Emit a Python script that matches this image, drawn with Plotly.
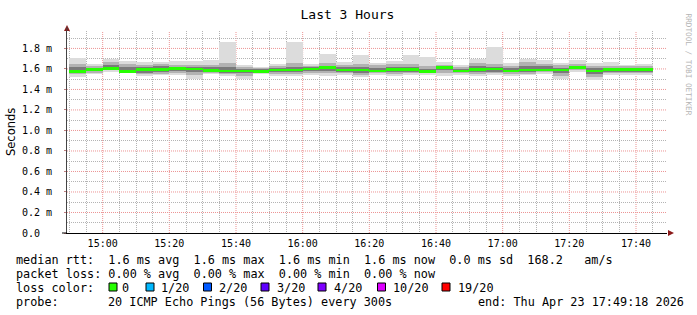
import plotly.graph_objects as go
import pandas as pd

# ---------------- data ----------------
title_text = "Last 3 Hours"
y_title = "Seconds"

# 5-minute RRD bins (start times)
bin_start = pd.date_range("2026-04-23 14:50", periods=35, freq="5min")

median_ms = [1.575, 1.593, 1.603, 1.578, 1.593, 1.593, 1.607, 1.600, 1.587, 1.580,
             1.580, 1.574, 1.590, 1.590, 1.600, 1.613, 1.590, 1.590, 1.580, 1.595,
             1.595, 1.573, 1.613, 1.580, 1.595, 1.600, 1.580, 1.590, 1.590, 1.590,
             1.613, 1.580, 1.597, 1.595, 1.595]
min_ms = [1.525, 1.548, 1.574, 1.566, 1.535, 1.540, 1.540, 1.500, 1.548, 1.535,
          1.502, 1.550, 1.530, 1.530, 1.540, 1.530, 1.540, 1.520, 1.540, 1.535,
          1.540, 1.540, 1.535, 1.540, 1.530, 1.540, 1.530, 1.540, 1.555, 1.502,
          1.574, 1.496, 1.545, 1.540, 1.540]
max_ms = [1.704, 1.646, 1.694, 1.680, 1.670, 1.670, 1.676, 1.676, 1.690, 1.866,
          1.639, 1.616, 1.649, 1.866, 1.646, 1.746, 1.670, 1.737, 1.662, 1.680,
          1.737, 1.717, 1.665, 1.640, 1.700, 1.815, 1.656, 1.700, 1.690, 1.656,
          1.690, 1.656, 1.670, 1.640, 1.649]
lo_mid = [1.550, 1.565, 1.585, 1.572, 1.550, 1.555, 1.560, 1.540, 1.565, 1.550,
          1.535, 1.560, 1.555, 1.550, 1.565, 1.560, 1.560, 1.545, 1.560, 1.555,
          1.560, 1.560, 1.560, 1.560, 1.555, 1.560, 1.555, 1.555, 1.570, 1.530,
          1.585, 1.520, 1.560, 1.560, 1.560]
hi_mid = [1.645, 1.625, 1.665, 1.645, 1.640, 1.645, 1.640, 1.640, 1.640, 1.660,
          1.620, 1.605, 1.630, 1.660, 1.630, 1.660, 1.640, 1.650, 1.635, 1.650,
          1.650, 1.630, 1.640, 1.620, 1.655, 1.650, 1.630, 1.665, 1.650, 1.635,
          1.650, 1.625, 1.630, 1.625, 1.630]
lo_core = [1.585, 1.585, 1.595, 1.580, 1.565, 1.575, 1.580, 1.575, 1.575, 1.560,
           1.565, 1.568, 1.570, 1.570, 1.580, 1.580, 1.570, 1.560, 1.570, 1.570,
           1.575, 1.565, 1.585, 1.570, 1.575, 1.575, 1.570, 1.570, 1.580, 1.560,
           1.595, 1.555, 1.575, 1.575, 1.575]
hi_core = [1.620, 1.610, 1.640, 1.620, 1.615, 1.625, 1.620, 1.615, 1.615, 1.620,
           1.600, 1.595, 1.610, 1.620, 1.615, 1.630, 1.615, 1.620, 1.610, 1.620,
           1.620, 1.600, 1.625, 1.600, 1.625, 1.620, 1.605, 1.630, 1.625, 1.610,
           1.630, 1.605, 1.610, 1.610, 1.610]

y_tick_vals = [0.0, 0.2, 0.4, 0.6, 0.8, 1.0, 1.2, 1.4, 1.6, 1.8]
y_tick_text = ["0.0  ", "0.2 m", "0.4 m", "0.6 m", "0.8 m", "1.0 m",
               "1.2 m", "1.4 m", "1.6 m", "1.8 m"]
y_minor_vals = [0.1, 0.3, 0.5, 0.7, 0.9, 1.1, 1.3, 1.5, 1.7, 1.9]

loss_labels = ["0", "1/20", "2/20", "3/20", "4/20", "10/20", "19/20"]
loss_colors = ["#26ff00", "#00b8ff", "#0059ff", "#5e00ff", "#7e00ff", "#dd00ff", "#ff0000"]

line_rtt = "median rtt:  1.6 ms avg  1.6 ms max  1.6 ms min  1.6 ms now  0.0 ms sd  168.2   am/s"
line_loss = "packet loss: 0.00 % avg  0.00 % max  0.00 % min  0.00 % now"
line_color_label = "loss color:"
line_probe_label = "probe:"
line_probe = "20 ICMP Echo Pings (56 Bytes) every 300s"
line_end = "end: Thu Apr 23 17:49:18 2026"
credit = "RRDTOOL / TOBI OETIKER"

# ---------------- layout geometry ----------------
W, H = 697, 315
L, R, T, B = 67, 30, 31, 82
PW, PH = W - L - R, H - T - B
MONO = "DejaVu Sans Mono"


def px(x):
    return (x - L) / PW


def py(y):
    return (H - B - y) / PH


def nb(s):
    return s.replace(" ", "\u00a0")


step_ms = 300000
centers = bin_start + pd.Timedelta(seconds=150)

# grid positions: minor every 5 min, major every 20 min
x_grid_all = pd.date_range("2026-04-23 14:50", "2026-04-23 17:45", freq="5min")
x_minor_vals = [t.strftime("%Y-%m-%d %H:%M") for t in x_grid_all if t.minute % 20 != 0]
x_major_vals = [t.strftime("%Y-%m-%d %H:%M") for t in x_grid_all if t.minute % 20 == 0]
x_major_text = [t.strftime("%H:%M") for t in x_grid_all if t.minute % 20 == 0]

fig = go.Figure()


def band(lo, hi, color):
    fig.add_trace(go.Bar(
        x=centers, base=lo, y=[h - l for l, h in zip(lo, hi)], width=step_ms,
        marker=dict(color=color, line=dict(width=0)), hoverinfo="skip",
        showlegend=False))


band(min_ms, max_ms, "#dcdcdc")
band(lo_mid, hi_mid, "#b2b2b2")
band(lo_core, hi_core, "#7a7a7a")
green_h = 0.027
band([m - green_h / 2 for m in median_ms], [m + green_h / 2 for m in median_ms], loss_colors[0])

minor_grid = "#b4b4b4"
major_grid = "#ec9494"
GDASH = "1px,1px"

fig.update_layout(
    width=W, height=H,
    margin=dict(l=L, r=R, t=T, b=B, pad=0),
    paper_bgcolor="white", plot_bgcolor="white",
    barmode="overlay", bargap=0,
    showlegend=False,
    title=dict(text=title_text, x=0.4985, xanchor="center", y=1 - 14 / H, yanchor="middle",
               font=dict(family=MONO, size=13, color="#000")),
    font=dict(family=MONO, color="#000"),
)

fig.update_xaxes(
    type="date",
    range=["2026-04-23 14:49:18", "2026-04-23 17:49:18"],
    tickmode="array", tickvals=x_major_vals, ticktext=x_major_text,
    tickfont=dict(family=MONO, size=10, color="#000"),
    showgrid=False,
    minor=dict(tickmode="array", tickvals=x_minor_vals, showgrid=True,
               gridcolor=minor_grid, griddash=GDASH, gridwidth=1),
    showline=True, linecolor="#000", linewidth=1,
    ticks="", zeroline=False, ticklabelstandoff=1,
)
fig.update_yaxes(
    range=[0, 1.97],
    tickmode="array", tickvals=y_tick_vals, ticktext=[nb(t) for t in y_tick_text],
    tickfont=dict(family=MONO, size=10, color="#000"),
    showgrid=False,
    minor=dict(tickmode="array", tickvals=y_minor_vals, showgrid=True,
               gridcolor=minor_grid, griddash=GDASH, gridwidth=1),
    showline=True, linecolor="#444", linewidth=1,
    ticks="outside", ticklen=2, tickcolor="#c08080",
    zeroline=False, ticklabelstandoff=10,
)

shapes = []
# major (red) grid lines, drawn beneath the smoke
for xv in x_major_vals:
    shapes.append(dict(type="line", xref="x", yref="paper", x0=xv, x1=xv, y0=0, y1=1,
                       layer="below", line=dict(color=major_grid, width=1, dash=GDASH)))
for yv in y_tick_vals[1:]:
    shapes.append(dict(type="line", xref="paper", yref="y", x0=0, x1=1, y0=yv, y1=yv,
                       layer="below", line=dict(color=major_grid, width=1, dash=GDASH)))

ann = []
# y axis title
ann.append(dict(text=y_title, x=px(11), y=py(132), xref="paper", yref="paper",
                textangle=-90, showarrow=False, xanchor="center", yanchor="middle",
                font=dict(family="DejaVu Sans", size=11.5, color="#000")))
# credit
ann.append(dict(text=nb(credit), x=px(688.5), y=py(64), xref="paper", yref="paper",
                textangle=90, showarrow=False, xanchor="center", yanchor="middle",
                font=dict(family=MONO, size=7.7, color="#b4b4b4")))

LEG = 11.8


def txt(s, x, y, anchor="left"):
    ann.append(dict(text=nb(s), x=px(x), y=py(y), xref="paper", yref="paper",
                    showarrow=False, xanchor=anchor, yanchor="middle", borderpad=0,
                    font=dict(family=MONO, size=LEG, color="#000")))


txt(line_rtt, 15, 259.5)
txt(line_loss, 15, 273.5)
txt(line_color_label, 15, 287.5)
txt(line_probe_label, 15, 301.5)
txt(line_probe, 107, 301.5)
txt(line_end, 477, 301.5)

swatch_x = [109, 146, 203.5, 261, 318, 377.5, 442]
label_x = [120.5, 160, 217.5, 275.5, 332.5, 392, 457]
for sx, lx, lab, col in zip(swatch_x, label_x, loss_labels, loss_colors):
    shapes.append(dict(type="rect", xref="paper", yref="paper",
                       x0=px(sx), x1=px(sx + 8), y0=py(291), y1=py(283),
                       fillcolor=col, line=dict(color="#000", width=1)))
    txt(lab, lx, 287.5)

# axis arrows
arrow_col = "#8b1a1a"
shapes.append(dict(type="path", xref="paper", yref="paper",
                   path=f"M {px(64)},{py(31)} L {px(70)},{py(31)} L {px(67)},{py(25)} Z",
                   fillcolor=arrow_col, line=dict(width=0)))
shapes.append(dict(type="path", xref="paper", yref="paper",
                   path=f"M {px(668)},{py(230)} L {px(668)},{py(236)} L {px(674)},{py(233)} Z",
                   fillcolor=arrow_col, line=dict(width=0)))
# axis line extensions beyond the plot corner
shapes.append(dict(type="line", xref="paper", yref="paper",
                   x0=px(62), x1=px(67), y0=py(233), y1=py(233),
                   line=dict(color="#000", width=1)))
shapes.append(dict(type="line", xref="paper", yref="paper",
                   x0=px(67), x1=px(67), y0=py(31), y1=py(27),
                   line=dict(color="#444", width=1)))

fig.update_layout(annotations=ann, shapes=shapes)
fig.write_html("out.html")
